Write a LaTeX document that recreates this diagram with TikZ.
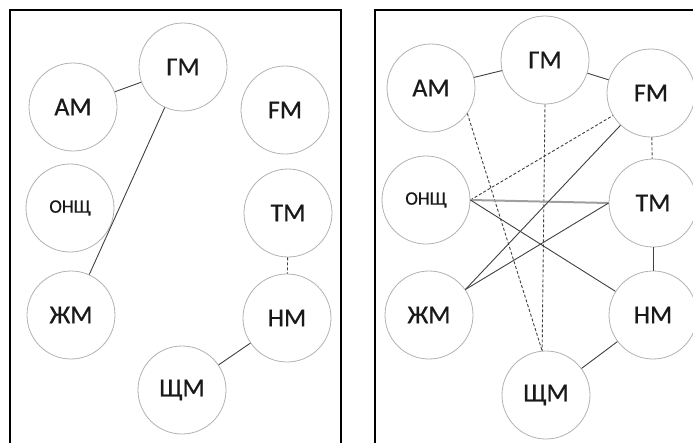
\documentclass[tikz,border=0pt]{standalone}
\usepackage{fontspec}
\setmainfont{Carlito}[FakeBold=0.6]
\usetikzlibrary{positioning}
\tikzset{
my node/.style={circle,draw=gray!60,line width=0.8pt,fill=white,minimum size=88pt,inner sep=0pt,
  font=\fontsize{26}{26}\selectfont,text=black!90},
my small/.style={font=\fontsize{19}{19}\selectfont},
link/.style={draw=black!75,line width=0.9pt},
weak/.style={draw=black!75,line width=0.9pt,dash pattern=on 3pt off 2pt},
strong/.style={draw=gray!75,line width=2pt},
frame/.style={line width=1.3pt}
}

\begin{document}
\begin{tikzpicture}[x=1pt,y=-1pt]
\useasboundingbox (0,0) rectangle (693,442);
% frames
\draw[frame] (10,445) -- (10,10) -- (341,10) -- (341,445);
\draw[frame] (375,445) -- (375,10) -- (697,10);
% left graph
\node[my node] (lGM)   at (183,67)  {ГМ};
\node[my node] (lAM)   at (73,107)  {АМ};
\node[my node] (lFM)   at (285,110) {FM};
\node[my node,my small] (lONSch) at (70,208) {ОНЩ};
\node[my node] (lTM)   at (288,213) {ТМ};
\node[my node] (lZhM)  at (71,315)  {ЖМ};
\node[my node] (lNM)   at (287,318) {НМ};
\node[my node] (lSchM) at (182,390) {ЩМ};
\path (lAM) edge[link] (lGM)
      (lGM) edge[link] (lZhM)
      (lTM) edge[weak] (lNM)
      (lNM) edge[link] (lSchM);
% right graph
\node[my node] (rAM)   at (431,88)  {АМ};
\node[my node] (rGM)   at (545,60)  {ГМ};
\node[my node] (rFM)   at (651,93)  {FM};
\node[my node,my small] (rONSch) at (426,200) {ОНЩ};
\node[my node] (rTM)   at (653,203) {ТМ};
\node[my node] (rZhM)  at (429,315) {ЖМ};
\node[my node] (rNM)   at (653,315) {НМ};
\node[my node] (rSchM) at (546,395) {ЩМ};
\path (rAM) edge[link] (rGM)
      (rGM) edge[link] (rFM)
      (rFM) edge[weak] (rTM)
      (rTM) edge[link] (rNM)
      (rNM) edge[link] (rSchM)
      (rAM.-35) edge[weak] (rSchM.95)
      (rGM.south) edge[weak] (rSchM.95)
      (rONSch.east) edge[weak] (rFM)
      (rONSch.east) edge[strong] (rTM.west)
      (rONSch.east) edge[link] (rNM)
      (rZhM.35) edge[link] (rFM)
      (rZhM.35) edge[link] (rTM.west);
\end{tikzpicture}
\end{document}
